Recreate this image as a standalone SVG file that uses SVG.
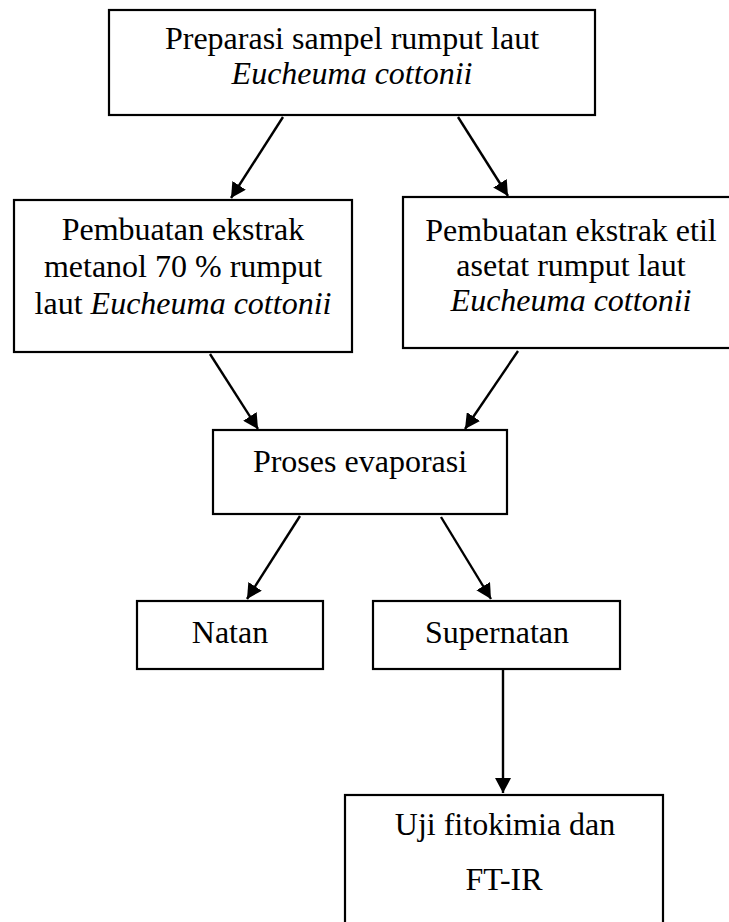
<svg xmlns="http://www.w3.org/2000/svg" width="729" height="922" viewBox="0 0 729 922">
<style>
.box{fill:#fff;stroke:#000;stroke-width:2.2}
.t{font-family:"Liberation Serif","Times New Roman",serif;font-size:32px;fill:#000;text-anchor:middle}
.i{font-style:italic}
.c{stroke:#000;stroke-width:2.4;fill:none}
</style>
<defs>
<marker id="ah" markerUnits="userSpaceOnUse" markerWidth="16" markerHeight="16" refX="15" refY="8" orient="auto">
<path d="M0,0 L15,8 L0,16 z" fill="#000"/>
</marker>
</defs>
<rect width="729" height="922" fill="#fff"/>
<g id="n1">
<rect class="box" x="109" y="10" width="486" height="105"/>
<text class="t" x="352" y="49">Preparasi sampel rumput laut</text>
<text class="t i" x="352" y="84">Eucheuma cottonii</text>
</g>
<g id="n2">
<rect class="box" x="14" y="200" width="338" height="152"/>
<text class="t" x="183" y="240">Pembuatan ekstrak</text>
<text class="t" x="183" y="277">metanol 70 % rumput</text>
<text class="t" x="183" y="314">laut <tspan class="i">Eucheuma cottonii</tspan></text>
</g>
<g id="n3">
<rect class="box" x="403" y="197" width="337" height="151"/>
<text class="t" x="571" y="241">Pembuatan ekstrak etil</text>
<text class="t" x="571" y="276">asetat rumput laut</text>
<text class="t i" x="571" y="311">Eucheuma cottonii</text>
</g>
<g id="n4">
<rect class="box" x="213" y="430" width="294" height="84"/>
<text class="t" x="360" y="472">Proses evaporasi</text>
</g>
<g id="n5">
<rect class="box" x="137" y="601" width="186" height="68"/>
<text class="t" x="230" y="643">Natan</text>
</g>
<g id="n6">
<rect class="box" x="373" y="601" width="247" height="68"/>
<text class="t" x="497" y="643">Supernatan</text>
</g>
<g id="n7">
<rect class="box" x="345" y="795" width="318" height="140"/>
<text class="t" x="505" y="835">Uji fitokimia dan</text>
<text class="t" x="504" y="890">FT-IR</text>
</g>
<g id="connectors">
<line class="c" x1="283" y1="117" x2="231" y2="198" marker-end="url(#ah)"/>
<line class="c" x1="458" y1="117" x2="508" y2="196" marker-end="url(#ah)"/>
<line class="c" x1="210" y1="354" x2="258" y2="429" marker-end="url(#ah)"/>
<line class="c" x1="518" y1="351" x2="465" y2="429" marker-end="url(#ah)"/>
<line class="c" x1="300" y1="516" x2="247" y2="599" marker-end="url(#ah)"/>
<line class="c" x1="441" y1="517" x2="491" y2="599" marker-end="url(#ah)"/>
<line class="c" x1="503" y1="670" x2="503" y2="793" marker-end="url(#ah)"/>
</g>
</svg>
